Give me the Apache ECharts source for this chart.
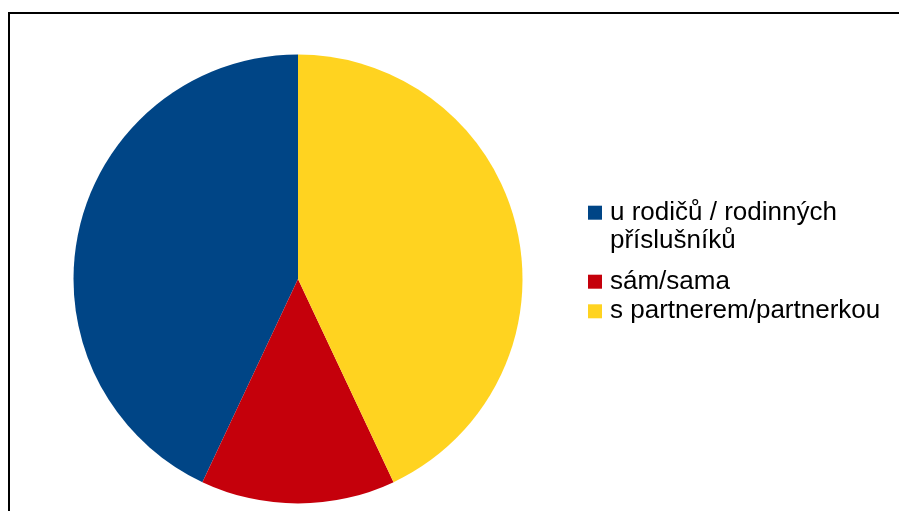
<!DOCTYPE html>
<html>
<head>
<meta charset="utf-8">
<script src="https://cdn.jsdelivr.net/npm/echarts@6/dist/echarts.min.js"></script>
<style>
  html, body { margin: 0; padding: 0; background: #fff; }
  #chart { width: 899px; height: 511px; }
</style>
</head>
<body>
<div id="chart"></div>
<script>
// Living arrangement shares (percent)
const categories = ['u rodičů / rodinných\npříslušníků', 'sám/sama', 's partnerem/partnerkou'];
const values = [43, 14, 43];
const colors = ['#004586', '#c5000b', '#ffd320'];

const LINE = 28.5;
const iconCentres = [212.7, 281.7, 311.3]; // vertical centre of each legend icon

const chart = echarts.init(document.getElementById('chart'));

// One legend block per entry; the wrapped entry gets a blank leading line so
// the icon (centred on the text block) lines up with its first line.
const legends = categories.map((name, i) => {
  const lines = name.split('\n').length;
  const blockLines = lines > 1 ? 2 * lines - 1 : 1;
  return {
    orient: 'vertical',
    left: 588,
    top: iconCentres[i] - blockLines * LINE / 2,
    padding: 0,
    itemWidth: 14,
    itemHeight: 14,
    icon: 'rect',
    selectedMode: false,
    formatter: n => (lines > 1 ? ' \n'.repeat(lines - 1) : '') + n,
    textStyle: {
      fontFamily: 'Liberation Sans, Arial, sans-serif',
      fontSize: 26,
      lineHeight: LINE,
      color: '#000',
      padding: [0, 0, 0, 3]
    },
    data: [name]
  };
});

chart.setOption({
  animation: false,
  backgroundColor: '#fff',
  legend: legends,
  graphic: [{
    type: 'rect',
    shape: { x: 9, y: 13, width: 1000, height: 1000 },
    style: { fill: 'none', stroke: '#000', lineWidth: 2 },
    silent: true
  }],
  series: [{
    type: 'pie',
    center: [298, 279],
    radius: 224.5,
    startAngle: 90,
    clockwise: false,
    label: { show: false },
    labelLine: { show: false },
    emphasis: { scale: false },
    itemStyle: { borderWidth: 0 },
    data: categories.map((name, i) => ({
      name: name,
      value: values[i],
      itemStyle: { color: colors[i] }
    }))
  }]
});
</script>
</body>
</html>
